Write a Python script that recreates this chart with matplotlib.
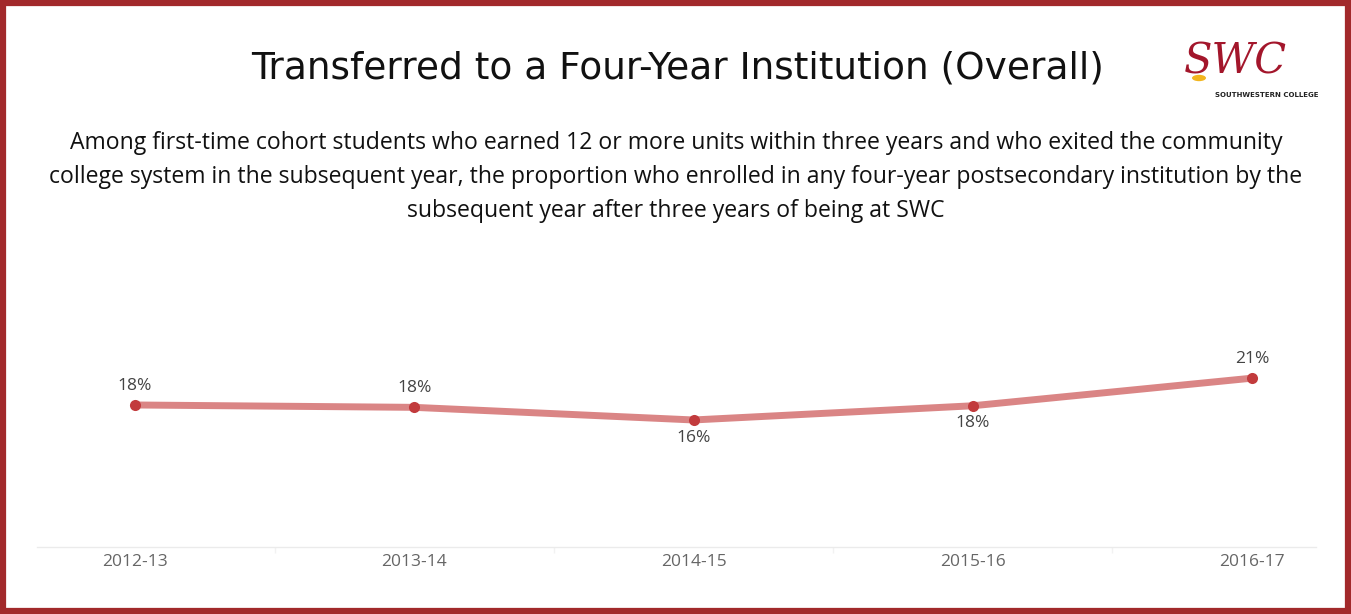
import numpy as np
import matplotlib
matplotlib.use("Agg")
from matplotlib import pyplot as plt
from matplotlib.patches import Rectangle, Circle

# data
years = ["2012-13", "2013-14", "2014-15", "2015-16", "2016-17"]
rates = [0.180, 0.177, 0.161, 0.179, 0.214]
labels = ["18%", "18%", "16%", "18%", "21%"]
label_pos = ["above", "above", "below", "below", "above"]

title = "Transferred to a Four-Year Institution (Overall)"
subtitle_lines = [
    "Among first-time cohort students who earned 12 or more units within three years and who exited the community",
    "college system in the subsequent year, the proportion who enrolled in any four-year postsecondary institution by the",
    "subsequent year after three years of being at SWC",
]
subtitle_y = [143, 177, 211]

W, H = 1351, 614
fig = plt.figure(figsize=(W/100, H/100), dpi=100)
fig.patch.set_facecolor("white")

# outer dark red frame
border = "#A2292B"
fig.patches.append(Rectangle((3/W, 3/H), (W-6)/W, (H-6)/H, transform=fig.transFigure,
                             fill=False, edgecolor=border, linewidth=4.5, zorder=10))

# axes placed in pixel terms: baseline at y=547, line spans x 37..1316
ax_left, ax_right = 37, 1316
ax_bottom, ax_top = 547, 250
ax = fig.add_axes([ax_left/W, (H-ax_bottom)/H, (ax_right-ax_left)/W, (ax_bottom-ax_top)/H])
step = 279.25
ax.set_xlim((ax_left-135)/step, (ax_right-135)/step)
ax.set_ylim(0, (ax_bottom-ax_top)/789.0)

xs = np.arange(len(years))
ax.plot(xs, rates, color="#D47070", alpha=0.85, lw=5, solid_capstyle="round", zorder=2)
ax.plot(xs, rates, "o", color="#C23B3D", ms=8, mec="none", zorder=3)

for x, v, lab, pos in zip(xs, rates, labels, label_pos):
    if pos == "above":
        ax.annotate(lab, (x, v), xytext=(0, 8), textcoords="offset points", ha="center", va="bottom",
                    fontsize=12.5, color="#444444", family="Open Sans")
    else:
        ax.annotate(lab, (x, v), xytext=(0, -7), textcoords="offset points", ha="center", va="top",
                    fontsize=12.5, color="#444444", family="Open Sans")

for s in ["top", "right", "left"]:
    ax.spines[s].set_visible(False)
ax.spines["bottom"].set_color("#EBEBEB")
ax.spines["bottom"].set_linewidth(1.0)
ax.set_yticks([])
ax.set_xticks(xs)
ax.set_xticklabels(years, fontsize=12.5, color="#666666", family="Open Sans")
ax.tick_params(axis="x", length=0, pad=5)
ax.set_xticks(xs[:-1] + 0.5, minor=True)
ax.tick_params(axis="x", which="minor", length=4, color="#F2F2F2", width=1)

fig.text(678/W, 1 - 69/H, title, ha="center", va="center", fontsize=27, color="#111111",
         family="DejaVu Sans")
for line, ly in zip(subtitle_lines, subtitle_y):
    fig.text(676/W, 1 - ly/H, line, ha="center", va="center", fontsize=16.6, color="#111111",
             family="Open Sans")

# logo (text approximation)
fig.text(1235/W, 1 - 62/H, "SWC", ha="center", va="center", fontsize=30, color="#A3162B",
         family="DejaVu Serif", style="italic")
fig.patches.append(Circle((1199/W, 1 - 78/H), 7/W, transform=fig.transFigure,
                          facecolor="#F2B51E", edgecolor="none", zorder=5))
fig.text(1267/W, 1 - 95/H, "SOUTHWESTERN COLLEGE", ha="center", va="center", fontsize=5,
         color="#222222", family="DejaVu Sans", weight="bold")

fig.savefig("out.png", dpi=100)
